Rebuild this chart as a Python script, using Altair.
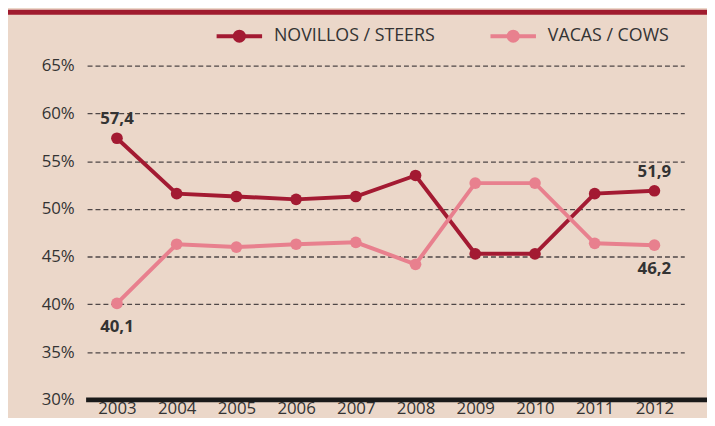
import altair as alt
import pandas as pd

years = ["2003", "2004", "2005", "2006", "2007", "2008", "2009", "2010", "2011", "2012"]
novillos = [57.4, 51.6, 51.3, 51.0, 51.3, 53.5, 45.3, 45.3, 51.6, 51.9]
vacas = [40.1, 46.3, 46.0, 46.3, 46.5, 44.2, 52.7, 52.7, 46.4, 46.2]
series_names = ["NOVILLOS / STEERS", "VACAS / COWS"]
colors = ["#A31A32", "#E8808E"]
y_ticks = [30, 35, 40, 45, 50, 55, 60, 65]

# labelled points: (year, series index, position)
label_years = ["2003", "2012", "2003", "2012"]
label_series = [0, 0, 1, 1]
label_pos = ["above", "above", "below", "below"]

FONT = "Open Sans, sans-serif"
BG = "#EBD7C9"
TXT = "#333333"

rows = []
for i, yr in enumerate(years):
    rows.append({"year": yr, "series": series_names[0], "value": novillos[i]})
for i, yr in enumerate(years):
    rows.append({"year": yr, "series": series_names[1], "value": vacas[i]})
df = pd.DataFrame(rows)

lab_rows = []
for yr, si, pos in zip(label_years, label_series, label_pos):
    v = (novillos if si == 0 else vacas)[years.index(yr)]
    lab_rows.append({"year": yr, "value": v, "pos": pos,
                     "text": f"{v:.1f}".replace(".", ",")})
labels = pd.DataFrame(lab_rows)

base_df = pd.DataFrame({"value": [30]})

W, H = 604, 338
LEG_PATH = "M-1,0L1,0M-0.2,0A0.2,0.2,0,1,0,0.2,0A0.2,0.2,0,1,0,-0.2,0Z"

x = alt.X("year:O", scale=alt.Scale(type="point", padding=0.5),
          axis=alt.Axis(title=None, labelAngle=0, ticks=False, domain=False,
                        labelPadding=1, labelFontSize=17, labelFont=FONT,
                        labelColor=TXT, grid=False))
y = alt.Y("value:Q", scale=alt.Scale(domain=[30, 65], nice=False, zero=False),
          axis=alt.Axis(title=None, values=y_ticks, labelExpr="datum.value + '%'",
                        ticks=False, domain=False, grid=True, gridDash=[5, 3],
                        gridColor="#4f4747", gridWidth=1.3, labelPadding=13,
                        labelFontSize=17, labelFont=FONT, labelColor=TXT))
color = alt.Color("series:N", scale=alt.Scale(domain=series_names, range=colors),
                  legend=alt.Legend(title=None, orient="none", legendX=129, legendY=-55,
                                    direction="horizontal", symbolType=LEG_PATH,
                                    symbolSize=2116, symbolStrokeWidth=4,
                                    labelFontSize=18, labelFont=FONT,
                                    labelColor=TXT, columnPadding=48,
                                    labelOffset=10, labelLimit=300))

lines = alt.Chart(df).mark_line(strokeWidth=4).encode(x=x, y=y, color=color)
points = alt.Chart(df).mark_point(filled=True, size=140, opacity=1).encode(x=x, y=y, color=color)

above = alt.Chart(labels).transform_filter(alt.datum.pos == "above").mark_text(
    fontWeight="bold", fontSize=17, font=FONT, color=TXT, dy=-19
).encode(x=x, y=y, text="text:N")
below = alt.Chart(labels).transform_filter(alt.datum.pos == "below").mark_text(
    fontWeight="bold", fontSize=17, font=FONT, color=TXT, dy=24
).encode(x=x, y=y, text="text:N")

baseline = alt.Chart(base_df).mark_rule(color="#1a1a1a", strokeWidth=5).encode(
    y=alt.Y("value:Q"), x=alt.value(-1), x2=alt.value(627))
topbar = alt.Chart(base_df).mark_rule(color="#A01B2E", strokeWidth=5).encode(
    y=alt.value(-54), x=alt.value(-80), x2=alt.value(627))

chart = alt.layer(lines, points, above, below, baseline, topbar).properties(
    width=W, height=H,
    padding={"left": 80, "top": 56, "right": 23, "bottom": 16},
    autosize=alt.AutoSizeParams(type="none"),
    background=BG,
).configure_view(stroke=None)

chart.save("out.html", embed_options={"renderer": "svg", "actions": False})
